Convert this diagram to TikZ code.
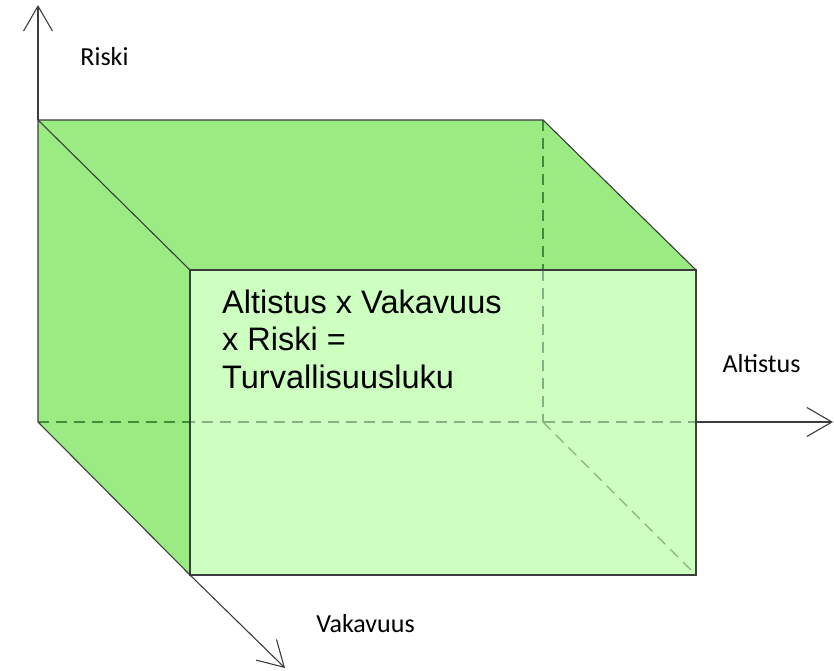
\documentclass[tikz,border=0pt]{standalone}
\usepackage{fontspec}
\setmainfont{Liberation Sans}
\newfontfamily\calib{Carlito}
\usetikzlibrary{arrows.meta}
\definecolor{darkface}{HTML}{9BEB83}
\definecolor{lightface}{HTML}{CCFFC0}
\definecolor{edgecol}{HTML}{3C3C3C}
\definecolor{hiddark}{HTML}{3F8C3A}
\definecolor{hidlight}{HTML}{86B283}
\tikzset{
  edge/.style={draw=edgecol, line width=1.1pt, line join=miter},
  hidden/.style={line width=1.1pt, dash pattern=on 11pt off 7pt},
  axis/.style={draw=edgecol, line width=1.1pt, -{Straight Barb[length=25pt,width=29pt,line width=1.1pt]}},
  axlabel/.style={font=\calib\fontsize{26}{30}\selectfont, inner sep=0pt, text=black},
}
\begin{document}
\begin{tikzpicture}[x=1pt,y=-1pt]
\useasboundingbox (0,0) rectangle (834,670);
% corners
\coordinate (btl) at (38,120);
\coordinate (btr) at (543,120);
\coordinate (bbl) at (38,422);
\coordinate (bbr) at (543,422);
\coordinate (ftl) at (190,270);
\coordinate (ftr) at (696,270);
\coordinate (fbl) at (190,575);
\coordinate (fbr) at (696,575);
\coordinate (xr) at (696,422);
\coordinate (vm) at (543,270);
\coordinate (lm) at (190,422);
\coordinate (rtip) at (38,5);
\coordinate (atip) at (833,422);
\coordinate (vtip) at (285,668);
% faces
\fill[darkface] (btl) -- (btr) -- (ftr) -- (ftl) -- cycle;
\fill[darkface] (btl) -- (ftl) -- (fbl) -- (bbl) -- cycle;
\fill[lightface] (ftl) rectangle (fbr);
% hidden edges
\draw[hidden, draw=hiddark] (btr) -- (vm);
\draw[hidden, draw=hiddark] (bbl) -- (lm);
\draw[hidden, draw=hidlight] (vm) -- (bbr);
\draw[hidden, draw=hidlight, dash phase=6pt] (lm) -- (xr);
\draw[hidden, draw=hidlight] (bbr) -- (fbr);
% visible edges
\draw[edge] (bbl) -- (btl) -- (btr) -- (ftr);
\draw[edge] (btl) -- (ftl);
\draw[edge] (bbl) -- (fbl);
\draw[edge] (ftl) rectangle (fbr);
% axes
\draw[axis] (btl) -- (rtip);
\draw[axis] (xr) -- (atip);
\draw[axis] (fbl) -- (vtip);
% labels
\node[axlabel] (lriski) at (104.5,57) {Riski};
\node[axlabel] (lalt) at (761.5,364) {Altistus};
\node[axlabel] (lvak) at (365.5,624) {Vakavuus};
\node[anchor=north west, inner sep=0pt, align=left, font=\fontsize{32.5}{37.5}\selectfont] (formula) at (222,289.5)
  {Altistus x Vakavuus\\x Riski =\\Turvallisuusluku};
\end{tikzpicture}
\end{document}
